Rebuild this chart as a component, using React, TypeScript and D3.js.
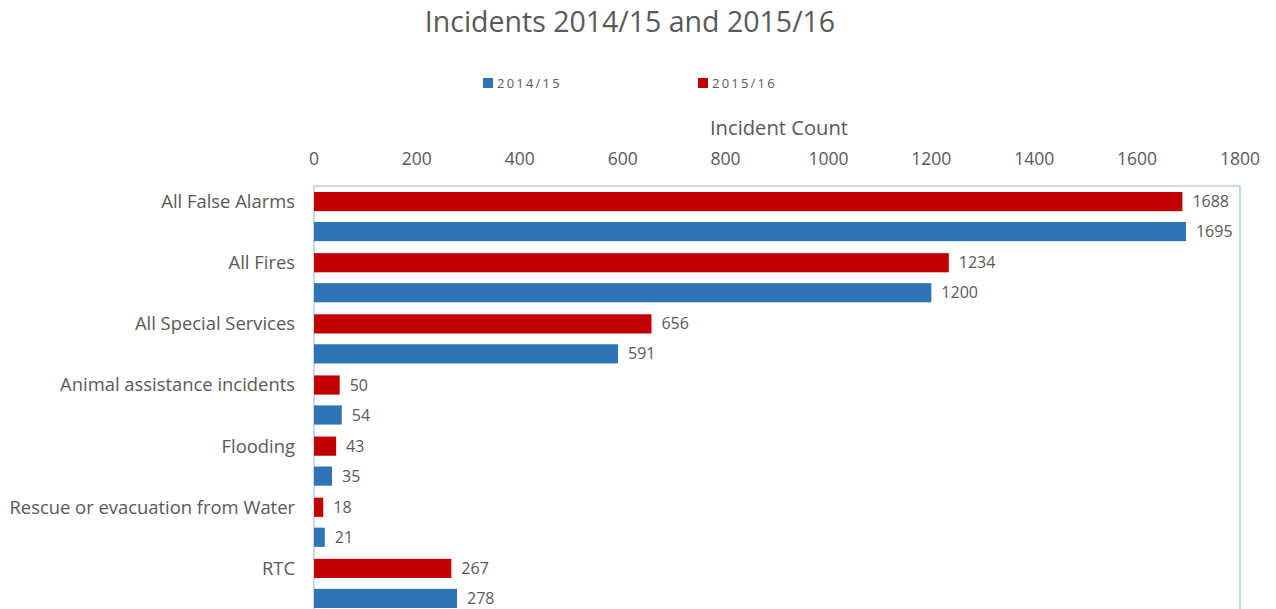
import React from "react";
import * as d3 from "d3";

const categories = [
  "All False Alarms",
  "All Fires",
  "All Special Services",
  "Animal assistance incidents",
  "Flooding",
  "Rescue or evacuation from Water",
  "RTC",
];
const series = ["2015/16", "2014/15"];
const values1516 = [1688, 1234, 656, 50, 43, 18, 267];
const values1415 = [1695, 1200, 591, 54, 35, 21, 278];
const xTicks = [0, 200, 400, 600, 800, 1000, 1200, 1400, 1600, 1800];
const colors: Record<string, string> = { "2014/15": "#2e75b6", "2015/16": "#c00000" };

const W = 1276;
const H = 609;
const plotLeft = 314;
const plotRight = 1240;
const plotTop = 186;
const plotBottom = 614;
const FONT = "'Open Sans', Lato, sans-serif";
const TXT = "#595959";

export default function App() {
  const x = d3.scaleLinear().domain([0, 1800]).range([plotLeft, plotRight]);
  const y = d3.scaleBand<string>().domain(categories).range([plotTop, plotBottom]);
  const inner = d3
    .scaleBand<string>()
    .domain(series)
    .range([0, y.bandwidth()])
    .paddingInner(0.36)
    .paddingOuter(0.2);
  const data: Record<string, number[]> = { "2015/16": values1516, "2014/15": values1415 };

  return (
    <svg width={W} height={H} style={{ position: "absolute", left: 0, top: 0, background: "#fff" }} fontFamily={FONT}>
      <rect x={0} y={0} width={W} height={H} fill="#fff" />
      <text x={630} y={32} textAnchor="middle" fontSize={28.5} fill={TXT}>
        Incidents 2014/15 and 2015/16
      </text>
      {/* legend */}
      <rect x={483} y={78} width={10} height={10} fill={colors["2014/15"]} />
      <text x={497} y={88} fontSize={13} fill={TXT} letterSpacing={2.2}>2014/15</text>
      <rect x={698} y={78} width={10} height={10} fill={colors["2015/16"]} />
      <text x={712} y={88} fontSize={13} fill={TXT} letterSpacing={2.2}>2015/16</text>
      {/* axis title */}
      <text x={779} y={135} textAnchor="middle" fontSize={20.2} fill={TXT}>Incident Count</text>
      {xTicks.map((t) => (
        <text key={t} x={x(t)} y={165} textAnchor="middle" fontSize={17.5} fill={TXT}>
          {t}
        </text>
      ))}
      {/* plot border */}
      <rect x={plotLeft} y={plotTop} width={plotRight - plotLeft} height={plotBottom - plotTop} fill="none" stroke="#9dc3e6" strokeWidth={1.2} />
      {categories.map((c, i) => (
        <g key={c}>
          <text x={295} y={(y(c) ?? 0) + (inner("2015/16") ?? 0) + inner.bandwidth() / 2} dy="0.35em" textAnchor="end" fontSize={18.4} fill={TXT}>
            {c}
          </text>
          {series.map((s) => {
            const v = data[s][i];
            const by = (y(c) ?? 0) + (inner(s) ?? 0);
            return (
              <g key={s}>
                <rect x={x(0)} y={by} width={x(v) - x(0)} height={inner.bandwidth()} fill={colors[s]} />
                <text x={x(v) + 10} y={by + inner.bandwidth() / 2} dy="0.35em" fontSize={16} fill={TXT}>
                  {v}
                </text>
              </g>
            );
          })}
        </g>
      ))}
    </svg>
  );
}
